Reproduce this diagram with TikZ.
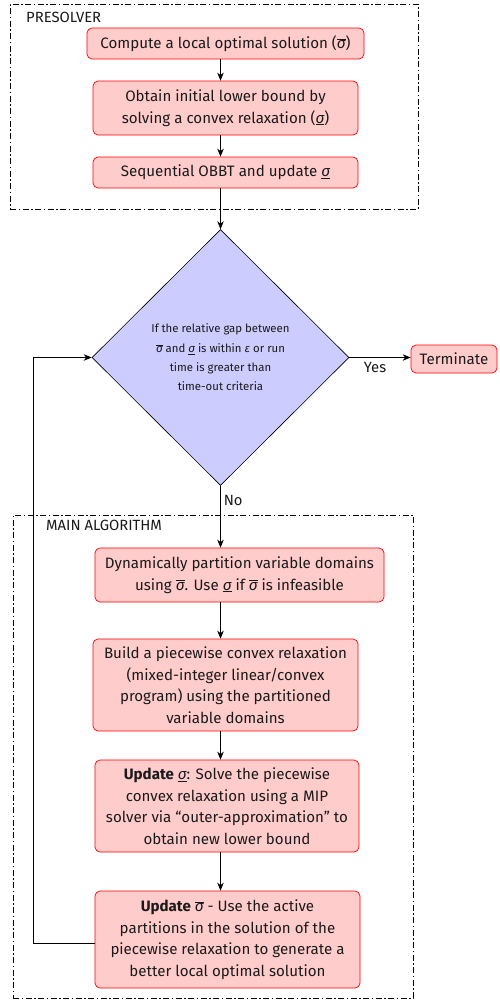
\documentclass[tikz,border=0pt]{standalone}
\usepackage{fontspec}
\setmainfont{Fira Sans}
\usetikzlibrary{shapes.geometric,arrows.meta}
\newcommand{\sigup}{$\overline{\hbox{\itshape σ}}$}
\newcommand{\sigdn}{$\underline{\hbox{\itshape σ}}$}
\definecolor{boxfill}{HTML}{FFCCCC}
\definecolor{boxline}{HTML}{FF0000}
\definecolor{diafill}{HTML}{CCCCFF}
\definecolor{txt}{HTML}{1A1A1A}
\begin{document}
\begin{tikzpicture}[x=1pt,y=-1pt,
  stepbox/.style={draw=boxline, fill=boxfill, rounded corners=5pt, align=center,
    font=\fontsize{15.1}{21.5}\selectfont, inner sep=0pt, text=txt, line width=0.7pt},
  decision/.style={diamond, draw=black, fill=diafill, align=center, inner sep=0pt,
    font=\fontsize{11.4}{19.3}\selectfont, text=txt, line width=0.6pt,
    minimum width=257pt, minimum height=256pt},
  frame/.style={draw=black, line width=0.7pt, dash pattern=on 6pt off 2.5pt on 1.5pt off 2.5pt},
  framelabel/.style={anchor=west, inner sep=0pt, font=\fontsize{14.8}{16}\selectfont, text=txt},
  arr/.style={-{Stealth[length=8pt,width=6.5pt]}, line width=0.7pt, draw=black},
  lbl/.style={inner sep=0pt, font=\fontsize{14.8}{16}\selectfont, text=txt}]
\useasboundingbox (0,0) rectangle (499,1005);
% frames
\node[frame, minimum width=408pt, minimum height=205pt, inner sep=0pt] (pre) at (214,106.5) {};
\node[framelabel] (prel) at (26,17) {PRESOLVER};
\node[frame, minimum width=400pt, minimum height=483pt, inner sep=0pt] (mainf) at (213,756.5) {};
\node[framelabel] (mainl) at (46,525) {MAIN ALGORITHM};
% presolver steps
\node[stepbox, minimum width=277pt, minimum height=31pt] (b1) at (225.5,43.5)
  {Compute a local optimal solution (\sigup)};
\node[stepbox, minimum width=265pt, minimum height=54pt] (b2) at (225.5,108)
  {Obtain initial lower bound by\\solving a convex relaxation (\sigdn)};
\node[stepbox, minimum width=265pt, minimum height=31pt] (b3) at (225.5,172.5)
  {Sequential OBBT and update \sigdn};
% decision
\node[decision] (d) at (220.5,357.5)
  {\raisebox{-1.5pt}{\parbox{170pt}{\centering If the relative gap between\\\sigup{} and \sigdn{} is within \textit{ε} or run\\time is greater than\\time-out criteria}}};
\node[stepbox, minimum width=86pt, minimum height=28pt] (t) at (454,359) {Terminate};
% main steps
\node[stepbox, minimum width=289pt, minimum height=54pt] (b4) at (239.5,575)
  {Dynamically partition variable domains\\using \sigup. Use \sigdn{} if \sigup{} is infeasible};
\node[stepbox, minimum width=265pt, minimum height=92pt] (b5) at (225.5,685)
  {Build a piecewise convex relaxation\\(mixed-integer linear/convex\\program) using the partitioned\\variable domains};
\node[stepbox, minimum width=264pt, minimum height=92pt] (b6) at (227,806)
  {\textbf{Update} \sigdn: Solve the piecewise\\convex relaxation using a MIP\\solver via “outer-approximation” to\\obtain new lower bound};
\node[stepbox, minimum width=265pt, minimum height=97pt] (b7) at (227.5,939.5)
  {\textbf{Update} \sigup{} - Use the active\\partitions in the solution of the\\piecewise relaxation to generate a\\better local optimal solution};
% connectors
\draw[arr] (b1.south -| d.north) -- (b2.north -| d.north);
\draw[arr] (b2.south -| d.north) -- (b3.north -| d.north);
\draw[arr] (b3.south -| d.north) -- (d.north);
\draw[arr] (d.east) -- (d.east -| t.west) node[lbl, pos=0.42, below=4pt] {Yes};
\draw[arr] (d.south) -- (b4.north -| d.south) node[lbl, pos=0.23, right=3pt] {No};
\draw[arr] (b4.south -| d.south) -- (b5.north -| d.south);
\draw[arr] (b5.south -| d.south) -- (b6.north -| d.south);
\draw[arr] (b6.south -| d.south) -- (b7.north -| d.south);
\coordinate (lp) at (33,357.5);
\draw[arr] ([yshift=-3.5pt]b7.west) -- ([yshift=-3.5pt]b7.west -| lp) -- (lp) -- (d.west);
\end{tikzpicture}
\end{document}
